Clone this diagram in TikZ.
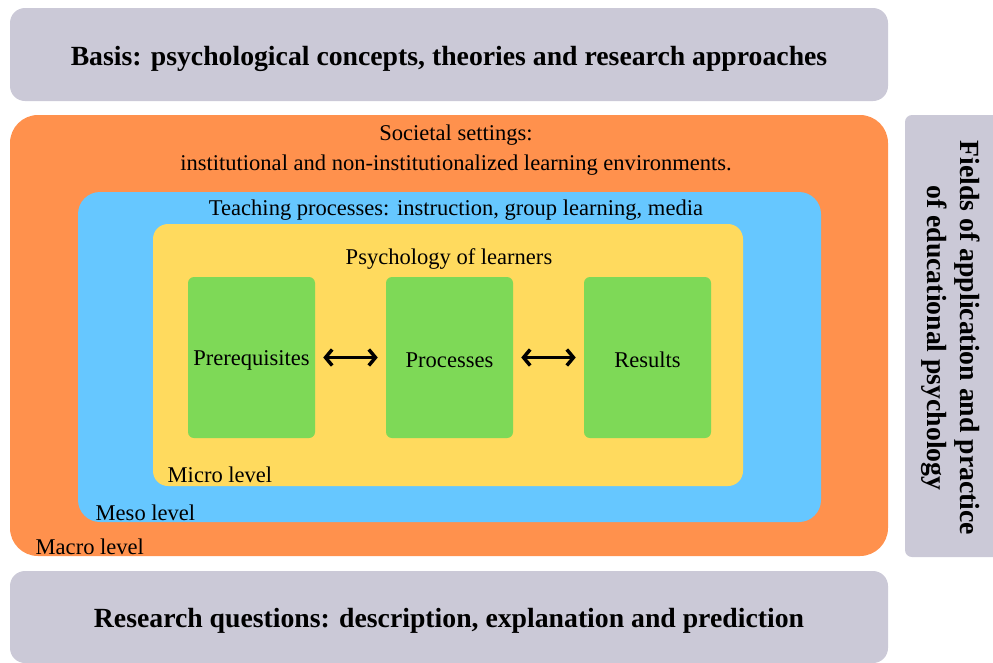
\documentclass[tikz,border=0pt]{standalone}
\usepackage{fontspec}
\setmainfont{Liberation Serif}
\usetikzlibrary{arrows.meta}

\definecolor{panelgray}{HTML}{CBC9D7}
\definecolor{macroorange}{HTML}{FF914D}
\definecolor{mesoblue}{HTML}{66C7FF}
\definecolor{microyellow}{HTML}{FFDA5E}
\definecolor{learngreen}{HTML}{7ED957}

\tikzset{
    area/.style={inner sep=0pt, draw=none},
    title/.style={font=\fontsize{20.8}{25}\selectfont\bfseries},
    caption/.style={font=\fontsize{16.9}{20}\selectfont},
    levelname/.style={font=\fontsize{16.9}{20}\selectfont, anchor=west},
    link/.style={{Straight Barb[length=5pt,width=12pt]}-{Straight Barb[length=5pt,width=12pt]}, line width=2.6pt, shorten >=8*0.75pt, shorten <=8*0.75pt}
}

\begin{document}
\begin{tikzpicture}[x=0.75pt, y=-0.75pt]
        \useasboundingbox (0,0) rectangle (993,662);
        % outer panels
        \node[area, fill=panelgray, rounded corners=15*0.75pt, minimum width=878*0.75pt, minimum height=93*0.75pt] (basis) at (449,54.5) {};
        \node[title] at (449,59) {Basis: psychological concepts, theories and research approaches};
        \node[area, fill=panelgray, rounded corners=15*0.75pt, minimum width=878*0.75pt, minimum height=92*0.75pt] (questions) at (449,617) {};
        \node[title] at (449,621) {Research questions: description, explanation and prediction};
        \node[area, fill=panelgray, rounded corners=7*0.75pt, minimum width=110*0.75pt, minimum height=442*0.75pt] (fields) at (960,336) {};
        \node[title, rotate=-90, align=center] at (951,338) {Fields of application and practice\\of educational psychology};

        % nested levels
        \node[area, fill=macroorange, rounded corners=28*0.75pt, minimum width=878*0.75pt, minimum height=441*0.75pt] (macro) at (449,335.5) {};
        \node[area, fill=mesoblue, rounded corners=22*0.75pt, minimum width=743*0.75pt, minimum height=330*0.75pt] (meso) at (449.5,357) {};
        \node[area, fill=microyellow, rounded corners=15*0.75pt, minimum width=590*0.75pt, minimum height=262*0.75pt] (micro) at (448,355) {};

        \node[caption] at (456,135) {Societal settings:};
        \node[caption] at (456,165) {institutional and non-institutionalized learning environments.};
        \node[caption] at (456,210) {Teaching processes: instruction, group learning, media};
        \node[caption] at (449,259) {Psychology of learners};
        \node[levelname] at (163,475) {Micro level};
        \node[levelname] at (91,513) {Meso level};
        \node[levelname] at (31,547) {Macro level};

        % learner boxes
        \foreach \name/\label/\xpos in {pre/Prerequisites/251.5, proc/Processes/449.5, res/Results/647.5}
            \node[area, fill=learngreen, rounded corners=6*0.75pt, minimum width=127*0.75pt, minimum height=161*0.75pt,
                  label={[caption, yshift=-2.5*0.75pt]center:\label}] (\name) at (\xpos,357.5) {};
        \draw[link] (pre) -- (proc);
        \draw[link] (proc) -- (res);
    \end{tikzpicture}
\end{document}
